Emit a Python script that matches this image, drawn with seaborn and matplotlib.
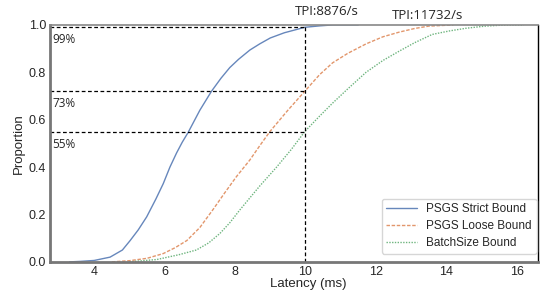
import matplotlib
matplotlib.use("Agg")
import matplotlib.pyplot as plt
import seaborn as sns
import pandas as pd

# CDF の読み取り値 (latency ms, proportion)
strict_x = [3.3, 3.6, 4.0, 4.45, 4.8, 5.02, 5.25, 5.49, 5.75, 5.96, 6.15, 6.34, 6.5, 6.67, 7.0, 7.33, 7.6, 7.85, 8.1, 8.42, 8.7, 9.0, 9.4, 9.98, 10.4, 10.77, 11.5]
strict_p = [0.0, 0.002, 0.006, 0.02, 0.05, 0.09, 0.135, 0.19, 0.265, 0.33, 0.40, 0.46, 0.505, 0.547, 0.64, 0.72, 0.775, 0.82, 0.855, 0.894, 0.92, 0.945, 0.967, 0.99, 0.996, 1.0, 1.0]

loose_x = [4.5, 5.0, 5.5, 5.96, 6.3, 6.63, 7.0, 7.37, 7.7, 8.04, 8.42, 8.7, 8.99, 9.5, 9.98, 10.4, 10.77, 11.2, 11.72, 12.2, 12.67, 13.1, 13.5, 14.2]
loose_p = [0.0, 0.005, 0.015, 0.035, 0.06, 0.09, 0.145, 0.22, 0.29, 0.36, 0.43, 0.49, 0.55, 0.64, 0.72, 0.79, 0.84, 0.88, 0.92, 0.95, 0.97, 0.985, 0.995, 1.0]

batch_x = [5.0, 5.78, 6.4, 6.9, 7.25, 7.57, 7.85, 8.14, 8.42, 8.7, 9.18, 9.6, 9.98, 10.4, 10.77, 11.2, 11.72, 12.2, 12.67, 13.1, 13.6, 14.1, 14.56, 15.1, 15.7, 16.2]
batch_p = [0.0, 0.01, 0.03, 0.05, 0.08, 0.12, 0.165, 0.22, 0.27, 0.32, 0.40, 0.475, 0.55, 0.615, 0.67, 0.73, 0.80, 0.85, 0.89, 0.925, 0.96, 0.975, 0.986, 0.995, 1.0, 1.0]

labels = ["PSGS Strict Bound", "PSGS Loose Bound", "BatchSize Bound"]
levels = [0.99, 0.72, 0.547]
level_text = ["99%", "73%", "55%"]
tpi_text = ["TPI:8876/s", "TPI:11732/s"]

sns.set_theme(style="white")
plt.rcParams['font.family'] = ['Liberation Sans', 'DejaVu Sans']
pal = sns.color_palette("deep")

fig = plt.figure(figsize=(5.4, 2.9), dpi=100)
ax = fig.add_axes([0.093, 0.097, 0.903, 0.817])

styles = ["-", (0, (2.5, 1.2)), (0, (1, 1))]
for (xs, ps), lab, c, ls in zip([(strict_x, strict_p), (loose_x, loose_p), (batch_x, batch_p)],
                                labels, pal[:3], styles):
    df = pd.DataFrame({"Latency (ms)": xs, "Proportion": ps})
    sns.lineplot(data=df, x="Latency (ms)", y="Proportion", ax=ax, color=c,
                 linestyle=ls, linewidth=1.0, alpha=0.85, label=lab)

x0, x1 = 2.75, 16.6
ax.set_xlim(x0, x1)
ax.set_ylim(0, 1.0)
ax.set_xticks([4, 6, 8, 10, 12, 14, 16])
ax.set_yticks([0, 0.2, 0.4, 0.6, 0.8, 1.0])

# 補助線
for lv, t in zip(levels, level_text):
    ax.plot([x0, 10], [lv, lv], color="black", linestyle=(0, (3, 2)), linewidth=0.9)
    ax.text(x0 + 0.06, lv - 0.025, t, fontsize=8.5, va="top", ha="left",
            family=["Open Sans", "DejaVu Sans"])
ax.plot([10, 10], [0, 0.99], color="black", linestyle=(0, (3, 2)), linewidth=0.9)
ax.text(10.6, 1.055, tpi_text[0], fontsize=9.5, ha="center", va="center",
        family=["Open Sans", "DejaVu Sans"], clip_on=False)
ax.text(13.46, 1.04, tpi_text[1], fontsize=9.5, ha="center", va="center",
        family=["Open Sans", "DejaVu Sans"], clip_on=False)

ax.tick_params(labelsize=9, length=0, pad=3)
ax.set_xlabel("Latency (ms)", fontsize=9.5, va="center")
ax.xaxis.set_label_coords(0.53, -0.095)
ax.set_ylabel("Proportion", fontsize=9.5, labelpad=3)

for s in ["left", "bottom"]:
    ax.spines[s].set_color("#777777")
    ax.spines[s].set_linewidth(2)
ax.spines["top"].set_color("#888888")
ax.spines["top"].set_linewidth(1.2)
ax.spines["right"].set_color("black")
ax.spines["right"].set_linewidth(1)

leg = ax.legend(loc="lower right", bbox_to_anchor=(1.0, 0.03), fontsize=8.5,
                frameon=True, handlelength=2.6, borderaxespad=0.1, labelspacing=0.4)
leg.get_frame().set_edgecolor("#cccccc")

fig.savefig("out.png", dpi=100)
